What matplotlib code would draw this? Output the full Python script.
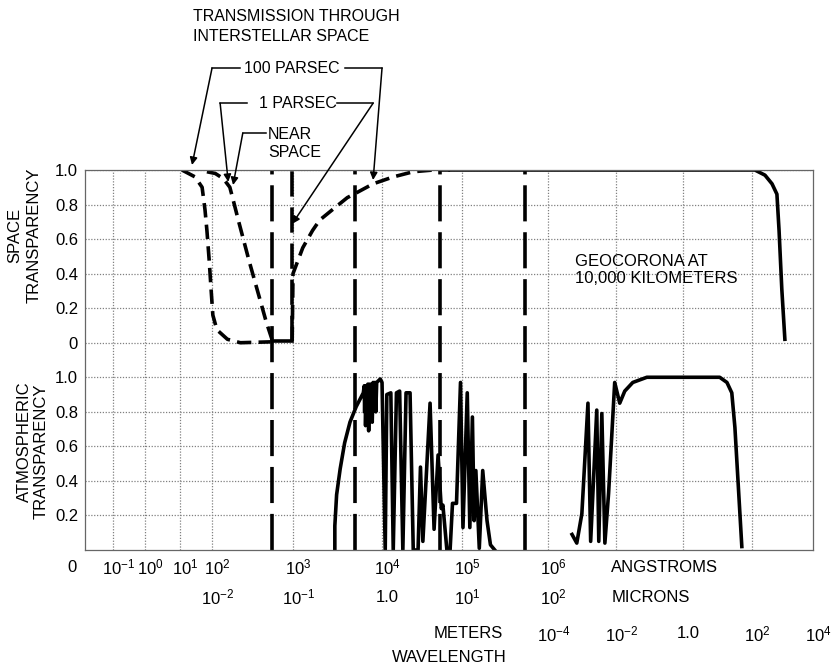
import numpy as np
import matplotlib
matplotlib.use("Agg")
import matplotlib.pyplot as plt

plt.rcParams['font.family'] = ['Liberation Sans', 'DejaVu Sans']
plt.rcParams['mathtext.fontset'] = 'custom'
plt.rcParams['mathtext.rm'] = 'Liberation Sans'
plt.rcParams['mathtext.it'] = 'Liberation Sans:italic'
plt.rcParams['mathtext.bf'] = 'Liberation Sans:bold'

#################################axis layout############################################
# log10(wavelength in angstrom) of each grid line, and where it sits across the plot
grid_dec = [-2, -1, 0, 1, 2, 3, 4, 5, 6, 8, 10, 12, 14]
grid_frac = [0.0, 0.0385, 0.0824, 0.1305, 0.1745, 0.2857, 0.408, 0.518, 0.636,
             0.729, 0.821, 0.916, 1.0]

angstrom_ticks = [-1, 0, 1, 2, 3, 4, 5, 6]
angstrom_labels = [r"$10^{-1}$", r"$10^{0}$", r"$10^{1}$", r"$10^{2}$",
                   r"$10^{3}$", r"$10^{4}$", r"$10^{5}$", r"$10^{6}$"]
micron_ticks = [2, 3, 4, 5, 6]
micron_labels = [r"$10^{-2}$", r"$10^{-1}$", "1.0", r"$10^{1}$", r"$10^{2}$"]
meter_ticks = [6, 8, 10, 12, 14]
meter_labels = [r"$10^{-4}$", r"$10^{-2}$", "1.0", r"$10^{2}$", r"$10^{4}$"]

# band boundaries (heavy dashed verticals)
boundaries = [2.74, 3.70, 4.72, 5.73]

TOP = 1.2   # zero of the upper (space) panel on the shared y axis

#################################space transparency############################################
pc100_x = [1.06, 1.47, 1.69, 1.78, 1.84, 1.91, 1.97, 2.01, 2.06, 2.19, 2.35, 2.72]
pc100_y = [1.0, 0.96, 0.90, 0.77, 0.65, 0.48, 0.31, 0.16, 0.075, 0.02, 0.0, 0.005]

pc1_x = [1.84, 2.04, 2.14, 2.22, 2.27, 2.33, 2.46, 2.58, 2.67, 2.74]
pc1_y = [0.99, 0.98, 0.95, 0.90, 0.81, 0.70, 0.47, 0.27, 0.12, 0.02]

floor_x = [2.74, 2.99]
floor_y = [0.01, 0.01]

lyman_x = [2.99, 2.99]
lyman_y = [0.01, 1.0]

recover_x = [2.99, 3.00, 3.11, 3.22, 3.30, 3.49, 3.61, 3.72, 3.90, 4.14, 4.39, 4.64, 4.85]
recover_y = [0.01, 0.40, 0.55, 0.65, 0.71, 0.79, 0.84, 0.87, 0.92, 0.96, 0.99, 1.0, 1.0]

geo_x = [4.85, 12.10, 12.43, 12.66, 12.82, 12.89, 12.98, 13.08]
geo_y = [1.0, 1.0, 0.97, 0.92, 0.86, 0.65, 0.31, 0.02]

#################################atmospheric transparency############################################
atm1_x = [3.47, 3.47, 3.49, 3.53, 3.58, 3.64, 3.71, 3.79,
          3.80, 3.805, 3.81, 3.815, 3.825, 3.83, 3.84, 3.85, 3.86, 3.87, 3.88,
          3.89, 3.90, 3.91, 3.92, 3.93, 3.94, 3.98, 4.00, 4.04, 4.06, 4.11, 4.14,
          4.18, 4.22, 4.26, 4.30, 4.35, 4.39, 4.45, 4.48, 4.51, 4.60, 4.65, 4.70,
          4.74, 4.76, 4.81, 4.85, 4.88, 4.93, 4.98, 5.01, 5.06, 5.09, 5.12, 5.14,
          5.16, 5.20, 5.24, 5.29, 5.33, 5.38]
atm1_y = [0.0, 0.14, 0.32, 0.47, 0.62, 0.74, 0.83, 0.91,
          0.95, 0.80, 0.95, 0.72, 0.95, 0.85, 0.96, 0.69, 0.96, 0.82, 0.96,
          0.74, 0.97, 0.88, 0.97, 0.80, 0.97, 0.99, 0.97, 0.0, 0.90, 0.91, 0.0,
          0.91, 0.92, 0.0, 0.91, 0.91, 0.0, 0.0, 0.48, 0.05, 0.85, 0.12, 0.55,
          0.24, 0.26, 0.0, 0.0, 0.27, 0.27, 0.97, 0.13, 0.91, 0.13, 0.77, 0.17,
          0.46, 0.01, 0.46, 0.17, 0.03, 0.0]

atm2_x = [6.71, 6.85, 7.00, 7.18, 7.26, 7.44, 7.50, 7.59, 7.68, 7.79, 7.97, 8.12,
          8.27, 8.51, 8.93, 11.07, 11.28, 11.42, 11.51, 11.71]
atm2_y = [0.09, 0.04, 0.21, 0.85, 0.05, 0.81, 0.05, 0.79, 0.04, 0.33, 0.97, 0.85,
          0.92, 0.97, 1.0, 1.0, 0.97, 0.91, 0.71, 0.02]

#################################figure############################################
fig = plt.figure(figsize=(8.35, 6.68), dpi=100)
ax = fig.add_axes([85 / 835, 118 / 668, 728 / 835, 380 / 668])


def fwd(x):
    return np.interp(np.asarray(x, dtype=float), grid_dec, grid_frac)


def inv(f):
    return np.interp(np.asarray(f, dtype=float), grid_frac, grid_dec)


ax.set_xscale('function', functions=(fwd, inv))
ax.set_xlim(-2, 14)
ax.set_ylim(0, 2.2)

# ---- grid ----
ax.set_xticks(grid_dec[1:-1], labels=[""] * len(grid_dec[1:-1]))
yt = [0.2, 0.4, 0.6, 0.8, 1.0] + [TOP + v for v in [0, 0.2, 0.4, 0.6, 0.8, 1.0]]
ytl = ["0.2", "0.4", "0.6", "0.8", "1.0", "0", "0.2", "0.4", "0.6", "0.8", "1.0"]
ax.set_yticks(yt, labels=ytl)
ax.tick_params(length=0, labelsize=12, pad=5)
ax.grid(True, color='0.5', linestyle=(0, (1, 1.3)), linewidth=0.9)
for s in ax.spines.values():
    s.set_color('0.4')
    s.set_linewidth(0.9)

lw = 2.6
short_dash = (0, (4.0, 2.0))
long_dash = (0, (10, 3.0))

# ---- band boundaries ----
for b in boundaries:
    ax.axvline(b, color='k', lw=lw, linestyle=long_dash)

# ---- space panel ----
ax.plot(pc100_x, [TOP + v for v in pc100_y], color='k', lw=lw, linestyle=short_dash)
ax.plot(pc1_x, [TOP + v for v in pc1_y], color='k', lw=lw, linestyle=short_dash)
ax.plot(floor_x, [TOP + v for v in floor_y], color='k', lw=lw)
ax.plot(lyman_x, [TOP + v for v in lyman_y], color='k', lw=lw, linestyle=(0, (7, 3)))
ax.plot(recover_x, [TOP + v for v in recover_y], color='k', lw=lw, linestyle=short_dash)
ax.plot(geo_x, [TOP + v for v in geo_y], color='k', lw=lw, solid_joinstyle='round')

# ---- atmosphere panel ----
ax.plot(atm1_x, atm1_y, color='k', lw=lw, solid_joinstyle='round')
ax.plot(atm2_x, atm2_y, color='k', lw=lw, solid_joinstyle='round')

# ---- wavelength rows ----
xt = ax.get_xaxis_transform()
fs = 12
row_y = [-0.047, -0.124, -0.221, -0.284]


def tick_text(x, y, lab):
    ax.annotate(lab, xy=(x, y), xycoords=xt, xytext=(4, 0), textcoords='offset points',
                ha='center', va='center', fontsize=fs)


for x, lab in zip(angstrom_ticks, angstrom_labels):
    tick_text(x, row_y[0], lab)
ax.annotate("0", xy=(-2, row_y[0]), xycoords=xt, xytext=(-9, 0), textcoords='offset points',
            ha='center', va='center', fontsize=fs)
ax.text(7.85, row_y[0], "ANGSTROMS", transform=xt, ha='left', va='center', fontsize=fs)
for x, lab in zip(micron_ticks, micron_labels):
    tick_text(x, row_y[1], lab)
ax.text(7.88, row_y[1], "MICRONS", transform=xt, ha='left', va='center', fontsize=fs)
ax.text(4.64, row_y[2], "METERS", transform=xt, ha='left', va='center', fontsize=fs)
for x, lab in zip(meter_ticks, meter_labels):
    tick_text(x, row_y[2], lab)
ax.text(4.84, row_y[3], "WAVELENGTH", transform=xt, ha='center', va='center', fontsize=fs)

# ---- y labels ----
fig.text(15 / 835, 1 - 235 / 668, "SPACE", rotation=90, ha='center', va='center', fontsize=fs)
fig.text(34 / 835, 1 - 235 / 668, "TRANSPARENCY", rotation=90, ha='center', va='center', fontsize=fs)
fig.text(24 / 835, 1 - 442 / 668, "ATMOSPHERIC", rotation=90, ha='center', va='center', fontsize=fs)
fig.text(41 / 835, 1 - 451 / 668, "TRANSPARENCY", rotation=90, ha='center', va='center', fontsize=fs)

# ---- annotations ----
afs = 11.5
ax.text(1.41, 3.03, "TRANSMISSION THROUGH\nINTERSTELLAR SPACE", ha='left', va='center',
        fontsize=afs, linespacing=1.4, clip_on=False)
ax.text(2.99, 2.79, "100 PARSEC", ha='center', va='center', fontsize=afs, clip_on=False)
ax.text(3.06, 2.587, "1 PARSEC", ha='center', va='center', fontsize=afs, clip_on=False)
ax.text(2.69, 2.356, "NEAR\nSPACE", ha='left', va='center', fontsize=afs,
        linespacing=1.25, clip_on=False)
ax.text(6.79, 1.622, "GEOCORONA AT\n10,000 KILOMETERS", ha='left', va='center',
        fontsize=12, linespacing=1.2)


def leader(start, corner, tip):
    ax.plot([start[0], corner[0]], [start[1], corner[1]], color='k', lw=1.1, clip_on=False)
    ax.annotate("", xy=tip, xytext=corner, annotation_clip=False,
                arrowprops=dict(arrowstyle='-|>', color='k', lw=1.1, mutation_scale=11,
                                shrinkA=0, shrinkB=0))


leader((2.35, 2.79), (2.0, 2.79), (1.375, 2.229))
leader((3.58, 2.79), (4.0, 2.79), (3.90, 2.142))
leader((2.43, 2.587), (2.10, 2.587), (2.20, 2.131))
leader((3.49, 2.587), (3.90, 2.587), (2.99, 1.888))
leader((2.67, 2.414), (2.38, 2.414), (2.26, 2.113))

fig.savefig("out.png", dpi=100)
